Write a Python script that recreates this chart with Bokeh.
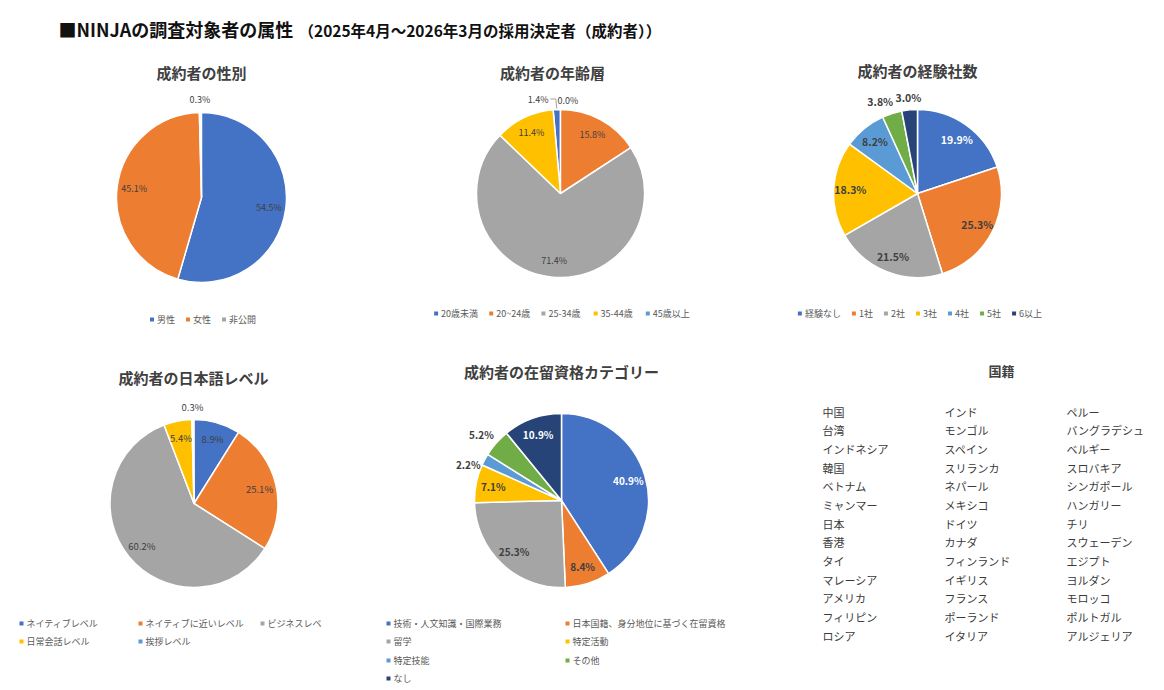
import math
from bokeh.plotting import figure
from bokeh.models import Range1d, ColumnDataSource
from bokeh.embed import file_html
from bokeh.resources import INLINE
from bokeh.core.properties import value

W, H = 1164, 690
FONT = "Noto Sans CJK JP"

# ---------------- data ----------------
gender_labels = ["男性", "女性", "非公開"]
gender_values = [54.5, 45.1, 0.3]

age_labels = ["20歳未満", "20~24歳", "25-34歳", "35-44歳", "45歳以上"]
age_values = [1.4, 15.8, 71.4, 11.4, 0.0]

exp_labels = ["経験なし", "1社", "2社", "3社", "4社", "5社", "6以上"]
exp_values = [19.9, 25.3, 21.5, 18.3, 8.2, 3.8, 3.0]

jp_labels = ["ネイティブレベル", "ネイティブに近いレベル", "ビジネスレベル", "日常会話レベル", "挨拶レベル"]
jp_legend_text = ["ネイティブレベル", "ネイティブに近いレベル", "ビジネスレベ", "日常会話レベル", "挨拶レベル"]
jp_values = [8.9, 25.1, 60.2, 5.4, 0.3]

visa_labels = ["技術・人文知識・国際業務", "日本国籍、身分地位に基づく在留資格", "留学", "特定活動",
               "特定技能", "その他", "なし"]
visa_values = [40.9, 8.4, 25.3, 7.1, 2.2, 5.2, 10.9]

countries_col1 = ["中国", "台湾", "インドネシア", "韓国", "ベトナム", "ミャンマー", "日本", "香港",
                  "タイ", "マレーシア", "アメリカ", "フィリピン", "ロシア"]
countries_col2 = ["インド", "モンゴル", "スペイン", "スリランカ", "ネパール", "メキシコ", "ドイツ", "カナダ",
                  "フィンランド", "イギリス", "フランス", "ポーランド", "イタリア"]
countries_col3 = ["ペルー", "バングラデシュ", "ベルギー", "スロバキア", "シンガポール", "ハンガリー", "チリ",
                  "スウェーデン", "エジプト", "ヨルダン", "モロッコ", "ポルトガル", "アルジェリア"]

main_title = "■NINJAの調査対象者の属性"
sub_title = "（2025年4月～2026年3月の採用決定者（成約者））"

# ---------------- style ----------------
PALETTE = ["#4472C4", "#ED7D31", "#A5A5A5", "#FFC000", "#5B9BD5", "#70AD47", "#264478"]
DARK = "#404040"
LEG = "#595959"

p = figure(width=W, height=H, x_range=Range1d(0, W), y_range=Range1d(0, H),
           output_backend="svg", toolbar_location=None, min_border=0)
p.axis.visible = False
p.grid.visible = False
p.outline_line_color = None
p.background_fill_color = "white"


def fy(py):
    return H - py


def txt(x, y, s, size, color=DARK, bold=False, align="left", baseline="middle"):
    p.text(x=[x], y=[fy(y)], text=[s], text_font=value(FONT), text_font_size=size,
           text_color=color, text_font_style="bold" if bold else "normal",
           text_align=align, text_baseline=baseline)


def twidth(s, fs):
    w = 0
    for ch in s:
        w += 0.56 if ord(ch) < 128 else 1.0
    return w * fs


def pie(cx, cy, r, values, offset=0.0, label_size="9px", label_bold=False,
        label_colors=None, outside=None, nudges=None, in_factor=0.8, out_factor=1.15):
    total = 100.0
    fr = [v / total for v in values]
    starts, ends, mids = [], [], []
    acc = offset
    for f in fr:
        starts.append(acc)
        ends.append(acc + f)
        mids.append(acc + f / 2)
        acc += f
    keep = [i for i, v in enumerate(values) if v > 0]
    src = ColumnDataSource(dict(
        x=[cx] * len(keep), y=[fy(cy)] * len(keep),
        sa=[math.pi / 2 - 2 * math.pi * starts[i] for i in keep],
        ea=[math.pi / 2 - 2 * math.pi * ends[i] for i in keep],
        c=[PALETTE[i] for i in keep]))
    p.wedge(x="x", y="y", radius=r, start_angle="sa", end_angle="ea", direction="clock",
            fill_color="c", line_color="white", line_width=1.5, source=src)
    label_colors = label_colors or [DARK] * len(values)
    outside = outside or []
    nudges = nudges or {}
    pos = []
    for i, v in enumerate(values):
        th = 2 * math.pi * mids[i]
        k = out_factor if i in outside else in_factor
        lx = cx + r * k * math.sin(th)
        ly = cy - r * k * math.cos(th)
        dx, dy = nudges.get(i, (0, 0))
        lx += dx
        ly += dy
        pos.append((lx, ly, th))
        col = DARK if i in outside else label_colors[i]
        txt(lx, ly, f"{v:.1f}%", label_size, color=col, bold=label_bold, align="center")
    return pos


def row_legend(cx, y, labels, fs=9, gap=10):
    widths = [8 + twidth(s, fs) for s in labels]
    total = sum(widths) + gap * (len(labels) - 1)
    x = cx - total / 2
    for i, s in enumerate(labels):
        p.scatter(x=[x + 2], y=[fy(y)], marker="square", size=4, fill_color=PALETTE[i],
                  line_color=None)
        txt(x + 7, y, s, f"{fs}px", color=LEG)
        x += widths[i] + gap


def grid_legend(xs, ys, labels, ncol, fs=9):
    for i, s in enumerate(labels):
        x = xs[i % ncol]
        y = ys[i // ncol]
        p.scatter(x=[x], y=[fy(y)], marker="square", size=4, fill_color=PALETTE[i],
                  line_color=None)
        txt(x + 5, y, s, f"{fs}px", color=LEG)


# ---------------- main title ----------------
txt(58, 28, main_title, "18px", color="#111111", bold=True)
txt(298, 29, sub_title, "15.5px", color="#111111", bold=True)

# ---------------- gender ----------------
txt(201, 72, "成約者の性別", "15px", bold=True, align="center")
pie(201, 197, 85, gender_values, outside=[2])
row_legend(203, 319, gender_labels)

# ---------------- age ----------------
txt(552, 72, "成約者の年齢層", "15px", bold=True, align="center")
pos = pie(560, 193, 84, age_values, offset=-0.014, outside=[0, 4],
          nudges={0: (-18, 3), 4: (16, 3)})
# leader line for 20歳未満
th = pos[0][2]
ex = 560 + 84 * math.sin(th)
ey = 193 - 84 * math.cos(th)
p.line(x=[pos[0][0] + 12, ex - 1, ex], y=[fy(pos[0][1] - 1), fy(pos[0][1] - 1), fy(ey - 1)],
       line_color="#A6A6A6", line_width=1)
row_legend(562, 313, age_labels)

# ---------------- experience ----------------
txt(917, 70, "成約者の経験社数", "15px", bold=True, align="center")
pie(917, 193, 84, exp_values, label_size="10.5px", label_bold=True,
    label_colors=["white", DARK, DARK, DARK, DARK, DARK, DARK], outside=[5, 6],
    nudges={5: (-8, 0), 6: (0, 0)})
row_legend(920, 313, exp_labels)

# ---------------- japanese level ----------------
txt(193, 377, "成約者の日本語レベル", "15px", bold=True, align="center")
pie(193.5, 503, 84, jp_values, label_size="9.5px", outside=[4])
grid_legend([21, 140, 262], [623, 641], jp_legend_text, 3)

# ---------------- visa ----------------
txt(561, 371, "成約者の在留資格カテゴリー", "15px", bold=True, align="center")
pie(561, 500, 87, visa_values, label_size="10px", label_bold=True,
    label_colors=["white", DARK, DARK, DARK, DARK, DARK, "white"], outside=[4, 5],
    nudges={4: (-5, 11), 5: (-5, 0)})
grid_legend([388, 567], [623, 641, 660, 678], visa_labels, 2)

# ---------------- nationality ----------------
txt(1001, 370, "国籍", "13px", bold=True, align="center")
for col_x, col in zip([822, 944, 1066], [countries_col1, countries_col2, countries_col3]):
    for j, name in enumerate(col):
        txt(col_x, 411 + j * 18.67, name, "11px", color="#3a3a3a")

open("out.html", "w").write(file_html(p, INLINE))
